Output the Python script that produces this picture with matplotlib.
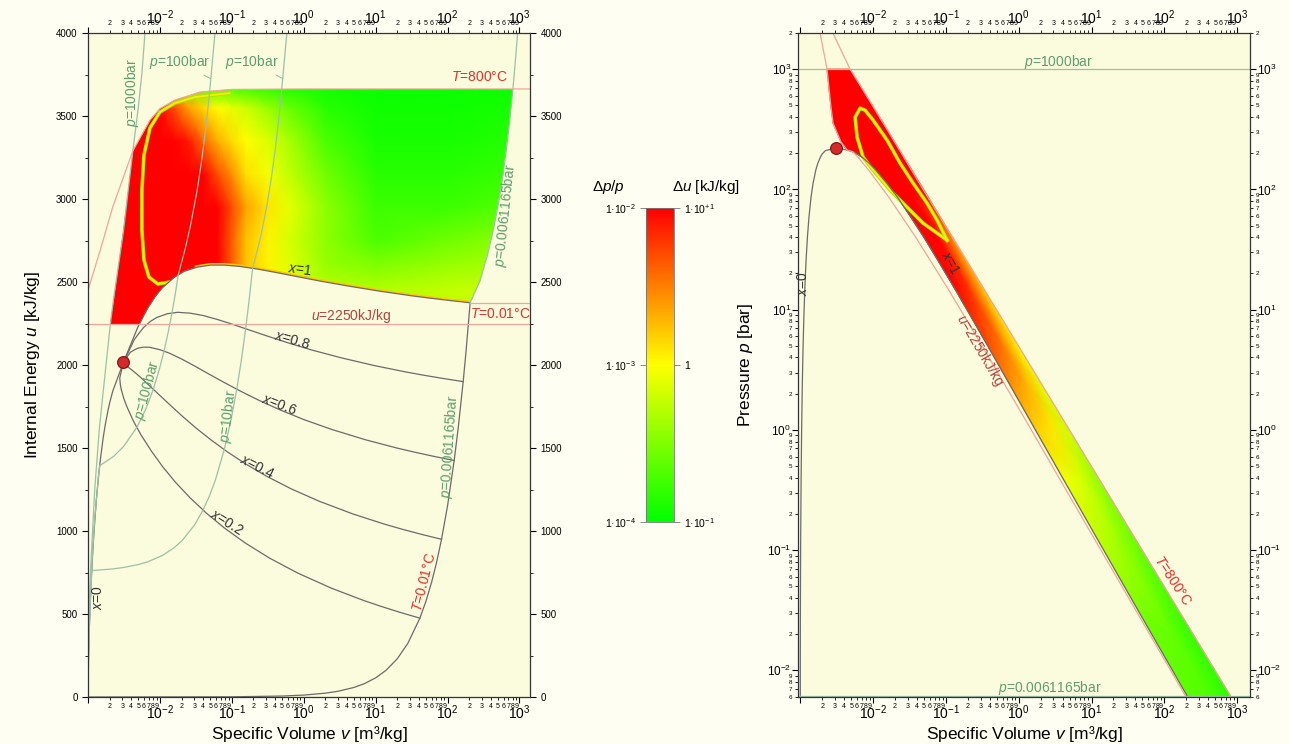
import numpy as np
import matplotlib
matplotlib.use("Agg")
import matplotlib.pyplot as plt
from matplotlib import ticker
from matplotlib.colors import LinearSegmentedColormap, LogNorm
from matplotlib.cm import ScalarMappable
from matplotlib.patches import Polygon

plt.rcParams["font.family"] = ["Liberation Sans", "DejaVu Sans"]
plt.rcParams["mathtext.fontset"] = "custom"
plt.rcParams["mathtext.rm"] = "Liberation Sans"
plt.rcParams["mathtext.it"] = "Liberation Sans:italic"
plt.rcParams["mathtext.bf"] = "Liberation Sans:bold"

# ---------------- saturation table (T in degC, p in bar) ----------------
sat_T = [0.01, 10, 20, 30, 50, 75, 100, 125, 150, 175, 200, 225, 250, 275, 300, 320, 340, 350, 360, 365, 370, 373.95]
sat_p = [0.006117, 0.012282, 0.023392, 0.04247, 0.12352, 0.38597, 1.0142, 2.3220, 4.7616, 8.9260, 15.549,
         25.504, 39.762, 59.458, 85.879, 112.84, 145.86, 165.29, 186.66, 198.33, 210.44, 220.64]
sat_vf = [0.0010002, 0.0010003, 0.0010018, 0.0010043, 0.0010121, 0.0010259, 0.0010435, 0.0010650, 0.0010905,
          0.0011209, 0.0011565, 0.0011992, 0.0012517, 0.0013174, 0.0014041, 0.0014988, 0.0016379, 0.0017411,
          0.0018959, 0.0020160, 0.0022170, 0.003106]
sat_vg = [205.99, 106.32, 57.762, 32.879, 12.026, 4.1289, 1.6720, 0.77012, 0.39248, 0.21659, 0.12721, 0.078405,
          0.050085, 0.032781, 0.021659, 0.015488, 0.010803, 0.008806, 0.006950, 0.006009, 0.004953, 0.003106]
sat_uf = [0.0, 42.02, 83.91, 125.73, 209.33, 313.99, 419.06, 524.83, 631.66, 740.02, 850.46, 963.4, 1080.8,
          1204.7, 1332.9, 1444.4, 1570.7, 1641.8, 1725.6, 1778.0, 1844.5, 2015.7]
sat_ug = [2374.9, 2388.7, 2402.4, 2416.0, 2443.1, 2475.9, 2506.0, 2534.3, 2559.1, 2579.4, 2594.2, 2601.9,
          2601.8, 2589.1, 2563.6, 2525.1, 2464.4, 2418.3, 2351.9, 2300.0, 2230.1, 2015.7]

# quality lines in the u-v diagram
x02_v = [41.199, 21.265, 11.553, 6.5766, 2.4060, 0.82660, 0.33524, 0.15488, 0.07937, 0.04421, 0.02637, 0.01664,
         0.01102, 0.007610, 0.005455, 0.004297, 0.003471, 0.003154, 0.002906, 0.002815, 0.002764, 0.003106]
x02_u = [475.0, 511.4, 547.6, 583.8, 656.1, 746.4, 836.5, 926.7, 1017.2, 1107.9, 1199.2, 1291.1, 1385.0, 1481.6,
         1579.0, 1660.5, 1749.4, 1797.1, 1850.9, 1882.4, 1921.6, 2015.7]
x04_v = [82.397, 42.529, 23.105, 13.152, 4.8110, 1.6522, 0.66943, 0.30869, 0.15765, 0.08731, 0.05158, 0.03208,
         0.02078, 0.013903, 0.009506, 0.007095, 0.005304, 0.004567, 0.003917, 0.003613, 0.003311, 0.003106]
x04_u = [950.0, 980.7, 1011.3, 1041.8, 1102.8, 1178.8, 1253.8, 1328.6, 1402.6, 1475.8, 1548.0, 1618.8, 1689.2,
         1758.5, 1825.2, 1876.7, 1928.2, 1952.4, 1976.1, 1986.8, 1998.7, 2015.7]
x06_v = [123.59, 63.792, 34.658, 19.728, 7.2160, 2.4777, 1.00362, 0.46250, 0.23592, 0.13040, 0.07679, 0.04752,
         0.03055, 0.020195, 0.013557, 0.009892, 0.007137, 0.005980, 0.004928, 0.004412, 0.003859, 0.003106]
x06_u = [1424.9, 1450.0, 1475.0, 1499.9, 1549.6, 1611.1, 1671.2, 1730.5, 1788.1, 1843.7, 1896.7, 1946.5, 1993.4,
         2035.3, 2071.3, 2092.8, 2106.9, 2107.7, 2101.4, 2091.2, 2075.9, 2015.7]
x08_v = [164.79, 85.056, 46.210, 26.303, 9.6210, 3.3033, 1.33781, 0.61631, 0.31420, 0.17350, 0.10200, 0.06296,
         0.04032, 0.026488, 0.017608, 0.012690, 0.008970, 0.007393, 0.005939, 0.005210, 0.004406, 0.003106]
x08_u = [1899.9, 1919.4, 1938.7, 1958.0, 1996.4, 2043.5, 2088.6, 2132.4, 2173.6, 2211.5, 2245.5, 2274.2, 2297.6,
         2312.2, 2317.5, 2309.0, 2285.7, 2263.0, 2226.6, 2195.6, 2153.0, 2015.7]

# isobars in the u-v diagram
p1000_v = [0.00100, 0.00110, 0.00124, 0.00144, 0.00178, 0.00205, 0.00227, 0.0031, 0.0042, 0.0050, 0.0056, 0.0062]
p1000_u = [400, 810, 1250, 1620, 2000, 2250, 2400, 2800, 3290, 3550, 3750, 4000]
p100_v = [0.00100, 0.0010385, 0.0010964, 0.0011482, 0.0012401, 0.0013972, 0.001452, 0.002281, 0.003110, 0.004768,
          0.006425, 0.008083, 0.009741, 0.011399, 0.013057, 0.014714, 0.016372, 0.01803, 0.02243, 0.02641,
          0.03279, 0.03837, 0.04358, 0.04859, 0.0583]
p100_u = [125, 416.1, 671.0, 844.5, 1073.4, 1329.4, 1393.0, 1450.6, 1508.1, 1623.3, 1738.4, 1853.6, 1968.7,
          2083.8, 2199.0, 2314.1, 2429.3, 2544.4, 2699.0, 2833.0, 3047.0, 3242.0, 3434.0, 3624.0, 4000.0]
p10_v = [0.00100, 0.001043, 0.001091, 0.001127, 0.002093, 0.003060, 0.004992, 0.006925, 0.010791, 0.015623,
         0.020454, 0.030118, 0.039782, 0.049446, 0.059109, 0.078436, 0.097764, 0.117091, 0.136418, 0.155745,
         0.175073, 0.1944, 0.2060, 0.2327, 0.2579, 0.3066, 0.3541, 0.4011, 0.4478, 0.4943, 0.582]
p10_u = [42, 418.9, 631.5, 761.4, 770.5, 779.6, 797.8, 816.0, 852.5, 898.0, 943.5, 1034.6, 1125.7, 1216.8,
         1307.8, 1489.9, 1672.1, 1854.2, 2036.4, 2218.5, 2400.7, 2582.8, 2622.3, 2710.4, 2793.7, 2957.9,
         3125.0, 3297.5, 3476.3, 3661.7, 4000.0]
trip_v = [0.001, 0.1, 0.5, 1.0, 2.0, 3.0, 5.0, 7.0, 10.0, 14.0, 20.0, 28.0, 41.2, 50.0, 60.0, 70.0, 82.4, 100.0,
          123.6, 140.0, 164.8, 180.0, 206.0]
trip_u = [0.0, 1.15, 5.8, 11.5, 23.1, 34.6, 57.6, 80.7, 115.3, 161.4, 230.6, 322.8, 475.0, 576.5, 691.8, 807.1,
          950.1, 1153.0, 1425.1, 1614.2, 1900.2, 2075.4, 2374.9]
ptr_v = [206.0, 281.6, 357.0, 432.0, 508.0, 583.0, 659.0, 734.0, 810.0, 885.0, 942.0]
ptr_u = [2374.9, 2506.0, 2660.0, 2812.0, 2968.0, 3132.0, 3302.0, 3480.0, 3663.0, 3853.0, 4000.0]

# isotherms / iso-energy line in the u-v diagram
t800_v = [0.001, 0.0015, 0.0022, 0.0031, 0.0042, 0.0073, 0.0100, 0.0162, 0.036, 0.1, 1.0, 1400.0]
t800_u = [2450, 2700, 2950, 3130, 3290, 3476, 3545, 3596, 3644, 3660, 3663, 3663]
t001_v = [206.0, 1400.0]
t001_u = [2374.9, 2374.9]
u_limit = 2250.0

# outline of the evaluated region (u-v)
reg_v = [0.00205, 0.00227, 0.0031, 0.0042, 0.0073, 0.0100, 0.0162, 0.036, 0.1, 1.0, 809.8, 734, 659, 583, 508,
         432, 357, 281.6, 206.0, 106.3, 57.76, 32.88, 12.03, 4.129, 1.672, 0.7701, 0.3925, 0.2166, 0.1272,
         0.07841, 0.05009, 0.03278, 0.02166, 0.01549, 0.0108, 0.008806, 0.00695, 0.006009, 0.0053]
reg_u = [2250, 2400, 2800, 3290, 3476, 3545, 3596, 3644, 3660, 3663, 3663, 3480, 3302, 3132, 2968, 2812, 2660,
         2506, 2374.9, 2388.7, 2402.4, 2416.0, 2443.1, 2475.9, 2506.0, 2534.3, 2559.1, 2579.4, 2594.2, 2601.9,
         2601.8, 2589.1, 2563.6, 2525.1, 2464.4, 2418.3, 2351.9, 2300.0, 2250]

# deviation field (0 = 1e-4 / 0.1, 0.5 = 1e-3 / 1, 1 = 1e-2 / 10), read on a coarse grid
fld_v = [0.001, 0.00282, 0.00447, 0.00631, 0.01, 0.0158, 0.0251, 0.0398, 0.0631, 0.1, 0.158, 0.316, 0.631,
         2.0, 10.0, 100.0, 1585.0]
fld_u = [2250, 2450, 2600, 2750, 2950, 3150, 3350, 3550, 3700]
fld_c = [
    [1, 1, 1, 1, 1, 1, 1, 1, 1.00, 0.82, 0.62, 0.52, 0.44, 0.36, 0.35, 0.38, 0.40],
    [1, 1, 1, 1, 1, 1, 1, 1, 1.00, 0.82, 0.62, 0.52, 0.44, 0.36, 0.35, 0.38, 0.40],
    [1, 1, 1, 1, 1, 1, 1, 1, 1.00, 0.82, 0.62, 0.52, 0.44, 0.30, 0.25, 0.30, 0.35],
    [1, 1, 1, 1, 1, 1, 1, 1, 1.00, 0.82, 0.62, 0.52, 0.42, 0.28, 0.15, 0.22, 0.30],
    [1, 1, 1, 1, 1, 1, 1, 1, 1.00, 0.85, 0.68, 0.55, 0.45, 0.28, 0.12, 0.12, 0.18],
    [1, 1, 1, 1, 1, 1, 1, 1, 0.85, 0.72, 0.56, 0.48, 0.38, 0.22, 0.08, 0.08, 0.12],
    [1, 1, 1, 1, 1, 1, 0.95, 0.80, 0.66, 0.57, 0.50, 0.43, 0.33, 0.15, 0.05, 0.05, 0.08],
    [1, 1, 1, 1, 1, 0.85, 0.68, 0.58, 0.50, 0.45, 0.40, 0.30, 0.20, 0.08, 0.03, 0.03, 0.05],
    [1, 1, 1, 1, 0.80, 0.50, 0.30, 0.15, 0.10, 0.08, 0.06, 0.05, 0.04, 0.03, 0.02, 0.02, 0.02],
]
ring_v = [0.01377, 0.00938, 0.00703, 0.00600, 0.00562, 0.00562, 0.00600, 0.00727, 0.0100, 0.01615, 0.0306, 0.0938]
ring_u = [2500, 2488, 2530, 2633, 2813, 3054, 3265, 3428, 3524, 3578, 3614, 3638]

# p-v diagram data
band_p = [1000, 500, 356, 250, 212, 205, 186.66, 145.86, 85.88, 39.76, 15.549, 4.7616, 2.322, 1.0142, 0.386,
          0.12352, 0.023392, 0.0061165]
band_vl = [0.00233, 0.00262, 0.00282, 0.0036, 0.0044, 0.0053, 0.00695, 0.0108, 0.02166, 0.05009, 0.1272,
           0.3925, 0.7701, 1.672, 4.129, 12.03, 57.76, 206.0]
band_vr = [0.00483, 0.00976, 0.01378, 0.01961, 0.02313, 0.0239, 0.02627, 0.03379, 0.05739, 0.12457, 0.31854,
           1.0402, 2.1331, 4.8836, 12.832, 40.10, 211.7, 809.8]
band_cl = [1, 1, 1, 1, 1, 1, 1, 1, 1, 1, 1, 0.85, 0.72, 0.60, 0.48, 0.38, 0.22, 0.18]
band_cm = [1, 1, 1, 1, 1, 1, 1, 1, 1, 1, 0.90, 0.75, 0.65, 0.55, 0.42, 0.32, 0.20, 0.16]
band_cr = [1, 1, 1, 1, 1, 1, 1, 1, 0.95, 0.70, 0.60, 0.50, 0.45, 0.40, 0.28, 0.20, 0.10, 0.08]
ringp_v = [0.1040, 0.0757, 0.0552, 0.03548, 0.02350, 0.01560, 0.0100, 0.00776, 0.00664, 0.00566, 0.00603,
           0.00729, 0.0100, 0.01714, 0.0322, 0.0486, 0.1040]
ringp_p = [37.8, 55.5, 76.7, 112.7, 165.2, 256.4, 377, 456, 474, 399, 271.6, 185.4, 144.5, 98.4, 67.1, 52.4, 37.8]
t800p_v = [0.0028, 0.00483, 0.00976, 0.01632, 0.0486, 0.4943, 4.952, 49.53, 495.3, 809.8, 825.0]
t800p_p = [2000, 1000, 500, 300, 100, 10, 1, 0.1, 0.01, 0.0061165, 0.006]
u2250p_v = [0.00187, 0.00233, 0.00262, 0.00282, 0.0036, 0.0044, 0.0053, 0.006128, 0.008604, 0.016498, 0.03879,
            0.10233, 0.3297, 1.467, 10.986, 53.967, 195.16]
u2250p_p = [2000, 1000, 500, 356, 250, 212, 205, 186.66, 145.86, 85.88, 39.76, 15.549, 4.7616, 1.0142, 0.12352,
            0.023392, 0.0061165]
p_high = 1000.0
p_triple = 0.0061165
crit_v, crit_u, crit_p = 0.003106, 2015.7, 220.64

# ---------------- styling ----------------
FIG_BG = "#fefef2"
AX_BG = "#fbfbdd"
DARK = "#6b6b6b"
GREEN_LINE = "#9dc0a6"
GREEN_TXT = "#5e9e6f"
PINK = "#f0a59d"
RED_TXT = "#e5302b"
DRED_TXT = "#b5443f"
cmap = LinearSegmentedColormap.from_list("gyr", ["#00ff00", "#ffff00", "#ff0000"])


def major_fmt(val, pos):
    if val < 0.002:
        return ""
    return r"$10^{%d}$" % int(round(np.log10(val)))


def minor_fmt(val, pos):
    e = np.floor(np.log10(val) + 1e-9)
    return str(int(round(val / 10 ** e)))


def style_logx(ax):
    ax.set_xscale("log")
    ax.xaxis.set_major_locator(ticker.LogLocator(base=10, numticks=20))
    ax.xaxis.set_minor_locator(ticker.LogLocator(base=10, subs=np.arange(2, 10), numticks=20))
    ax.xaxis.set_major_formatter(ticker.FuncFormatter(major_fmt))
    ax.xaxis.set_minor_formatter(ticker.FuncFormatter(minor_fmt))
    ax.tick_params(axis="x", which="both", direction="out", top=True, labeltop=True)
    ax.tick_params(axis="x", which="major", labelsize=10, length=4, pad=0.5)
    ax.tick_params(axis="x", which="minor", labelsize=5, length=2.5, pad=1.5)
    ax.set_facecolor(AX_BG)
    for s in ax.spines.values():
        s.set_color("#333333")
        s.set_linewidth(0.9)


fig = plt.figure(figsize=(12.9, 7.44), dpi=100, facecolor=FIG_BG)
axL = fig.add_axes([88 / 1290, 47 / 744, 442 / 1290, 664 / 744])
axR = fig.add_axes([798 / 1290, 47 / 744, 452 / 1290, 664 / 744])
cax = fig.add_axes([646 / 1290, 222 / 744, 28 / 1290, 314 / 744])

# ================= left: u-v diagram =================
style_logx(axL)
axL.set_xlim(1e-3, 1.4e3)
axL.set_ylim(0, 4000)
axL.yaxis.set_major_locator(ticker.MultipleLocator(500))
axL.yaxis.set_minor_locator(ticker.MultipleLocator(250))
axL.tick_params(axis="y", which="both", direction="out", left=True, right=True, labelleft=True,
                labelright=True, labelsize=7)
axL.tick_params(axis="y", which="major", length=4)
axL.tick_params(axis="y", which="minor", length=2.5)

region = Polygon(np.column_stack([reg_v, reg_u]), closed=True, facecolor="none", edgecolor="none",
                 transform=axL.transData)
axL.add_patch(region)
VV, UU = np.meshgrid(fld_v, fld_u)
mesh = axL.pcolormesh(VV, UU, np.array(fld_c), cmap=cmap, vmin=0, vmax=1, shading="gouraud", zorder=1.5)
mesh.set_clip_path(region)
edge = axL.plot(sat_vg[:14], sat_ug[:14], color="#ffc800", lw=3, zorder=1.6)[0]
edge.set_clip_path(region)
for lw, col in [(2.6, "#a8e800"), (1.2, "#ffee00")]:
    ln = axL.plot(ring_v, ring_u, color=col, lw=lw, zorder=1.7, solid_capstyle="round")[0]
    ln.set_clip_path(region)

lkw = dict(lw=0.9, zorder=2)
axL.plot(sat_vf, sat_uf, color=DARK, **lkw)
axL.plot(sat_vg, sat_ug, color=DARK, **lkw)
for xv, xu in [(x02_v, x02_u), (x04_v, x04_u), (x06_v, x06_u), (x08_v, x08_u)]:
    axL.plot(xv, xu, color=DARK, **lkw)
axL.plot(trip_v, trip_u, color=DARK, **lkw)
for pv, pu in [(p1000_v, p1000_u), (p100_v, p100_u), (p10_v, p10_u), (ptr_v, ptr_u)]:
    axL.plot(pv, pu, color=GREEN_LINE, **lkw)
axL.plot(t800_v, t800_u, color=PINK, **lkw)
axL.plot(t001_v, t001_u, color=PINK, **lkw)
axL.axhline(u_limit, color=PINK, **lkw)
axL.plot([crit_v], [crit_u], "o", ms=8.5, mfc="#d42a2a", mec="#7a1010", mew=0.8, zorder=5)

tkw = dict(fontsize=10, ha="center", va="center", zorder=6)
axL.annotate(r"$p$=100bar", xy=(0.0505, 3725), xytext=(0.0189, 3825), color=GREEN_TXT,
             arrowprops=dict(arrowstyle="-", color=GREEN_LINE, lw=0.8, shrinkA=2, shrinkB=0), **tkw)
axL.annotate(r"$p$=10bar", xy=(0.51, 3725), xytext=(0.190, 3825), color=GREEN_TXT,
             arrowprops=dict(arrowstyle="-", color=GREEN_LINE, lw=0.8, shrinkA=2, shrinkB=0), **tkw)
axL.text(0.00415, 3640, r"$p$=1000bar", color=GREEN_TXT, rotation=90, **tkw)
axL.text(640, 2900, r"$p$=0.0061165bar", color=GREEN_TXT, rotation=84, **tkw)
axL.text(0.0066, 1850, r"$p$=100bar", color=GREEN_TXT, rotation=75, **tkw)
axL.text(0.088, 1690, r"$p$=10bar", color=GREEN_TXT, rotation=83, **tkw)
axL.text(106, 1510, r"$p$=0.0061165bar", color=GREEN_TXT, rotation=86, **tkw)
axL.text(280, 3735, r"$T$=800°C", color=RED_TXT, **tkw)
axL.text(540, 2310, r"$T$=0.01°C", color=RED_TXT, **tkw)
axL.text(48, 690, r"$T$=0.01°C", color=RED_TXT, rotation=76, **tkw)
axL.text(4.6, 2295, r"$u$=2250kJ/kg", color=DRED_TXT, **tkw)
axL.text(0.88, 2572, r"$x$=1", color="#333333", rotation=-8, **tkw)
axL.text(0.68, 2150, r"$x$=0.8", color="#333333", rotation=-16, **tkw)
axL.text(0.46, 1760, r"$x$=0.6", color="#333333", rotation=-21, **tkw)
axL.text(0.222, 1386, r"$x$=0.4", color="#333333", rotation=-27, **tkw)
axL.text(0.0853, 1054, r"$x$=0.2", color="#333333", rotation=-32, **tkw)
axL.text(0.00138, 600, r"$x$=0", color="#333333", rotation=90, **tkw)

axL.set_xlabel(r"Specific Volume $v$ [m³/kg]", fontsize=12.5)
axL.xaxis.set_label_coords(0.5, -0.04)
axL.set_ylabel(r"Internal Energy $u$ [kJ/kg]", fontsize=12.5)
axL.yaxis.set_label_coords(-0.105, 0.5)

# ================= right: p-v diagram =================
style_logx(axR)
axR.set_xlim(9.3e-4, 1.5e3)
axR.set_yscale("log")
axR.set_ylim(0.006, 2000)
axR.yaxis.set_major_locator(ticker.LogLocator(base=10, numticks=20))
axR.yaxis.set_minor_locator(ticker.LogLocator(base=10, subs=np.arange(2, 10), numticks=20))
axR.yaxis.set_major_formatter(ticker.FuncFormatter(lambda val, pos: r"$10^{%d}$" % int(round(np.log10(val)))))
axR.yaxis.set_minor_formatter(ticker.FuncFormatter(minor_fmt))
axR.tick_params(axis="y", which="both", direction="out", left=True, right=True, labelleft=True, labelright=True)
axR.tick_params(axis="y", which="major", labelsize=8.5, length=4, pad=1)
axR.tick_params(axis="y", which="minor", labelsize=4.5, length=2.5, pad=1.5)

bl = np.array(band_vl)
br = np.array(band_vr)
X = np.column_stack([bl, np.sqrt(bl * br), br])
Y = np.column_stack([band_p, band_p, band_p])
C = np.column_stack([band_cl, band_cm, band_cr])
axR.pcolormesh(X, Y, C, cmap=cmap, vmin=0, vmax=1, shading="gouraud", zorder=1.5)
for lw, col in [(2.6, "#a8e800"), (1.2, "#ffee00")]:
    axR.plot(ringp_v, ringp_p, color=col, lw=lw, zorder=1.7)

axR.plot(sat_vf, sat_p, color=DARK, **lkw)
axR.plot(sat_vg, sat_p, color=DARK, **lkw)
axR.axhline(p_high, color=GREEN_LINE, **lkw)
axR.axhline(p_triple, color=GREEN_LINE, **lkw)
axR.plot(t800p_v, t800p_p, color=PINK, **lkw)
axR.plot(u2250p_v, u2250p_p, color=PINK, **lkw)
axR.plot([crit_v], [crit_p], "o", ms=8.5, mfc="#d42a2a", mec="#7a1010", mew=0.8, zorder=5)

axR.text(3.48, 1150, r"$p$=1000bar", color=GREEN_TXT, **tkw)
axR.text(2.7, 0.0071, r"$p$=0.0061165bar", color=GREEN_TXT, **tkw)
axR.text(0.114, 24.3, r"$x$=1", color="#333333", rotation=-62, **tkw)
axR.text(0.00109, 16.6, r"$x$=0", color="#333333", rotation=90, **tkw)
axR.text(0.295, 4.6, r"$u$=2250kJ/kg", color=DRED_TXT, rotation=-60, **tkw)
axR.text(128, 0.056, r"$T$=800°C", color=RED_TXT, rotation=-57, **tkw)

axR.set_xlabel(r"Specific Volume $v$ [m³/kg]", fontsize=12.5)
axR.xaxis.set_label_coords(0.5, -0.04)
axR.set_ylabel(r"Pressure $p$ [bar]", fontsize=12.5)
axR.yaxis.set_label_coords(-0.095, 0.5)

# ================= colour bar =================
sm = ScalarMappable(norm=LogNorm(1e-4, 1e-2), cmap=cmap)
cb = fig.colorbar(sm, cax=cax)
cb.outline.set_edgecolor("#777777")
cb.outline.set_linewidth(0.6)
cax.minorticks_off()
cax.yaxis.set_ticks_position("left")
cb.set_ticks([1e-4, 1e-3, 1e-2])
cb.set_ticklabels(["1·10$^{-4}$", "1·10$^{-3}$", "1·10$^{-2}$"])
cax.tick_params(labelsize=7.5, length=4, width=0.6, color="#777777")
cax2 = cax.twinx()
cax2.set_yscale("log")
cax2.set_ylim(0.1, 10)
cax2.set_yticks([0.1, 1, 10])
cax2.set_yticklabels(["1·10$^{-1}$", "1", "1·10$^{+1}$"])
cax2.minorticks_off()
cax2.tick_params(labelsize=7.5, length=4, width=0.6, color="#777777")
for s in cax2.spines.values():
    s.set_visible(False)
fig.text(608 / 1290, 1 - 187 / 744, r"$\Delta p/p$", fontsize=11, ha="center", va="center")
fig.text(706 / 1290, 1 - 187 / 744, r"$\Delta u$ [kJ/kg]", fontsize=11, ha="center", va="center")

fig.savefig("out.png", dpi=100, facecolor=FIG_BG)
